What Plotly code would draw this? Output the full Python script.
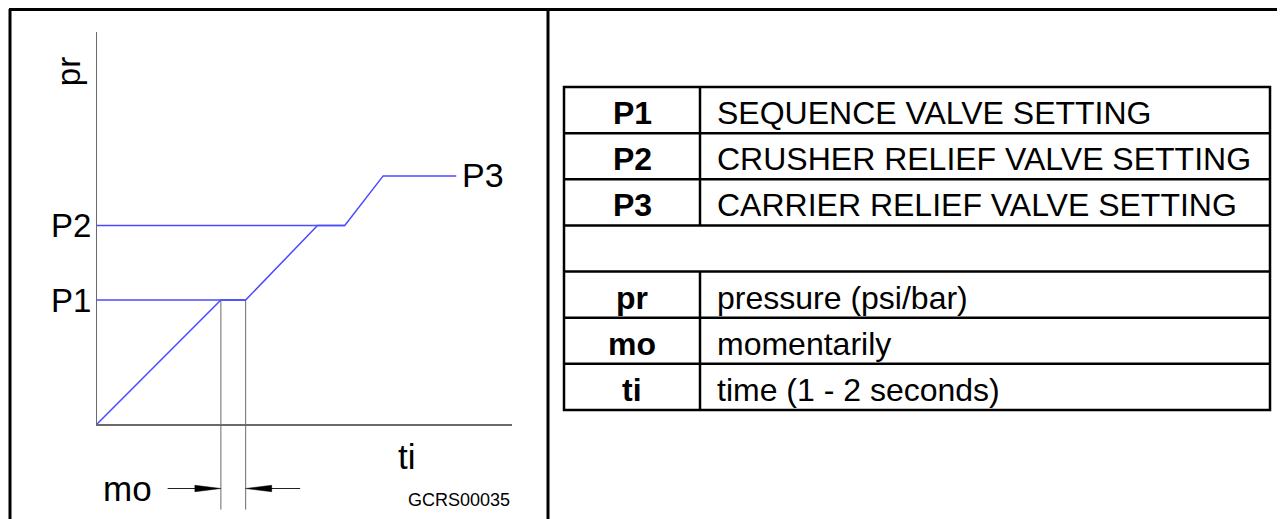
import plotly.graph_objects as go

# pressure curve (time units, pressure units)
ti = [0, 10, 12, 17.8, 20, 23.1, 29]
pr = [0, 10, 10, 16, 16, 20, 20]

P1 = 10
P2 = 16
P3 = 20
mo_start = 10
mo_end = 12

symbols = ["P1", "P2", "P3", "", "pr", "mo", "ti"]
meanings = [
    "SEQUENCE VALVE SETTING",
    "CRUSHER RELIEF VALVE SETTING",
    "CARRIER RELIEF VALVE SETTING",
    "",
    "pressure (psi/bar)",
    "momentarily",
    "time (1 - 2 seconds)",
]

W, H = 1285, 519
OFF = 8  # page body margin
FONT = "Liberation Sans, Arial, sans-serif"
BLUE = "#4a4aff"
GREY = "#6a6a6a"
X_MAX = 33.5
Y_MAX = 31.6


def px(x):
    return (x - OFF) / W


def py(y):
    return 1 - (y - OFF) / H


def xdom(v):
    return v / X_MAX


def ydom(v):
    return v / Y_MAX


fig = go.Figure()

# setting levels drawn from the pressure axis
fig.add_trace(go.Scatter(x=[0, ti[2]], y=[P1, P1], mode="lines",
                         line=dict(color=BLUE, width=1.5), hoverinfo="skip"))
fig.add_trace(go.Scatter(x=[0, ti[4]], y=[P2, P2], mode="lines",
                         line=dict(color=BLUE, width=1.5), hoverinfo="skip"))
# pressure rise
fig.add_trace(go.Scatter(x=ti, y=pr, mode="lines",
                         line=dict(color=BLUE, width=1.5), hoverinfo="skip"))

shapes = []
annotations = []

# momentary guide lines and arrows
for t in [mo_start, mo_end]:
    shapes.append(dict(type="line", xref="x", yref="y domain", x0=t, x1=t,
                       y0=ydom(-6.9), y1=ydom(P1), line=dict(color=GREY, width=1)))

arrow_y = ydom(-5.2)
head_len = 2.1
head_h = 3.2 / 392
shapes.append(dict(type="line", xref="x", yref="y domain", x0=5.7, x1=mo_start - 1,
                   y0=arrow_y, y1=arrow_y, line=dict(color="#222", width=1)))
shapes.append(dict(type="line", xref="x", yref="y domain", x0=mo_end + 1, x1=16.4,
                   y0=arrow_y, y1=arrow_y, line=dict(color="#222", width=1)))
for tip, base in [(mo_start, mo_start - head_len), (mo_end, mo_end + head_len)]:
    shapes.append(dict(type="path", xref="x", yref="y domain",
                       path=f"M{tip},{arrow_y} L{base},{arrow_y + head_h} L{base},{arrow_y - head_h} Z",
                       fillcolor="black", line=dict(color="black", width=0.5)))


def label(text, x, y, size=33, xanchor="center", angle=0):
    return dict(text=text, x=xdom(x), y=ydom(y), xref="x domain", yref="y domain",
                showarrow=False, xanchor=xanchor, yanchor="middle", textangle=angle,
                font=dict(family=FONT, size=size, color="black"))


annotations += [
    label("pr", -2.3, 28.4, angle=-90),
    label("P3", 29.3, P3 + 0.1, size=34, xanchor="left"),
    label("ti", 25, -2.6, size=35),
    label("mo", 4.6, -5.2, size=35, xanchor="right"),
    label("GCRS00035", X_MAX, -6.1, size=18, xanchor="right"),
]

# outer frame
frame = dict(color="black", width=3)
shapes += [
    dict(type="line", xref="paper", yref="paper", x0=px(9), x1=1, y0=py(9.5), y1=py(9.5), line=frame),
    dict(type="line", xref="paper", yref="paper", x0=px(10), x1=px(10), y0=py(9), y1=0, line=frame),
    dict(type="line", xref="paper", yref="paper", x0=px(548), x1=px(548), y0=py(9), y1=0, line=frame),
]

# legend table
tx0, tx1, tdiv = 564, 1270, 700
ty0, ty1 = 87, 410
row_h = (ty1 - ty0) / len(symbols)
tline = dict(color="black", width=2.5)
shapes.append(dict(type="rect", xref="paper", yref="paper", x0=px(tx0), x1=px(tx1),
                   y0=py(ty0), y1=py(ty1), line=tline))
for i in range(1, len(symbols)):
    yy = ty0 + i * row_h
    shapes.append(dict(type="line", xref="paper", yref="paper", x0=px(tx0), x1=px(tx1),
                       y0=py(yy), y1=py(yy), line=tline))
for i, (s, m) in enumerate(zip(symbols, meanings)):
    top = ty0 + i * row_h
    if not (s or m):
        continue
    shapes.append(dict(type="line", xref="paper", yref="paper", x0=px(tdiv), x1=px(tdiv),
                       y0=py(top), y1=py(top + row_h), line=tline))
    yc = py(top + row_h / 2 + 3)
    annotations.append(dict(text=f"<b>{s}</b>", x=px((tx0 + tdiv) / 2), y=yc, xref="paper",
                            yref="paper", showarrow=False, xanchor="center", yanchor="middle",
                            font=dict(family=FONT, size=32, color="black")))
    annotations.append(dict(text=m, x=px(tdiv + 15), y=yc, xref="paper", yref="paper",
                            showarrow=False, xanchor="left", yanchor="middle",
                            font=dict(family=FONT, size=32, color="black")))

fig.update_layout(
    width=W, height=H,
    margin=dict(l=0, r=0, t=0, b=0),
    paper_bgcolor="white", plot_bgcolor="white",
    showlegend=False,
    shapes=shapes,
    annotations=annotations,
    xaxis=dict(domain=[px(97), px(512)], range=[0, X_MAX], showgrid=False, zeroline=False,
               showline=True, linecolor=GREY, linewidth=1.5, showticklabels=False, ticks=""),
    yaxis=dict(domain=[py(424), py(32)], range=[0, Y_MAX], showgrid=False, zeroline=False,
               showline=True, linecolor=GREY, linewidth=1, ticks="",
               ticklabelstandoff=-2,
               tickvals=[P1, P2], ticktext=["P1", "P2"],
               tickfont=dict(family=FONT, size=33, color="black")),
)

fig.write_html("out.html")
